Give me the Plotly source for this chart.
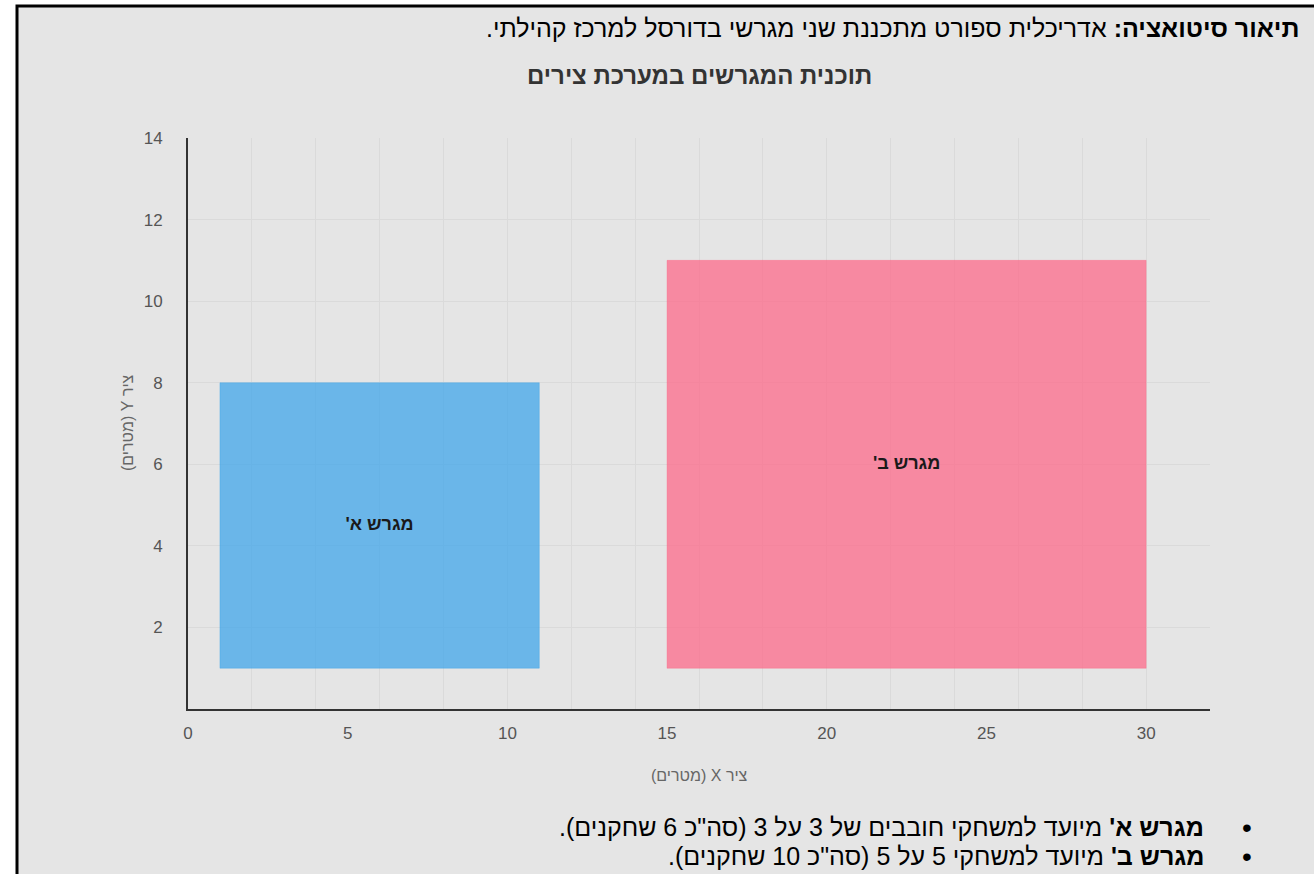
import plotly.graph_objects as go

# data
court_names = ["מגרש א'", "מגרש ב'"]
x_start = [1, 15]
x_end = [11, 30]
y_start = [1, 1]
y_end = [8, 11]
court_colors = ["rgba(54, 162, 235, 0.7)", "rgba(255, 99, 132, 0.7)"]
court_lines = ["rgba(54, 162, 235, 0.35)", "rgba(255, 99, 132, 0.35)"]

x_ticks = [0, 5, 10, 15, 20, 25, 30]
y_ticks = [2, 4, 6, 8, 10, 12, 14]

header = "<b>תיאור סיטואציה:</b> אדריכלית ספורט מתכננת שני מגרשי בדורסל למרכז קהילתי."
chart_title = "תוכנית המגרשים במערכת צירים"
x_title = "ציר X (מטרים)"
y_title = "ציר Y (מטרים)"
bullets = [
    "<b>מגרש א'</b> מיועד למשחקי חובבים של 3 על 3 (סה\"כ 6 שחקנים).",
    "<b>מגרש ב'</b> מיועד למשחקי 5 על 5 (סה\"כ 10 שחקנים).",
]

W, H = 1314, 874
ML, MT = 188, 138
MR, MB = W - 1210, H - 709
PW, PH = W - ML - MR, H - MT - MB


def px_x(px):
    return (px - ML) / PW


def px_y(py):
    return (H - MB - py) / PH


def rtl(s):
    return "\u202b" + s + "\u200f\u202c"


FONT = "Liberation Sans, Arial, sans-serif"

fig = go.Figure()

for name, x0, x1, y0, y1, fc, lc in zip(court_names, x_start, x_end, y_start, y_end, court_colors, court_lines):
    fig.add_trace(go.Scatter(
        x=[x0, x1, x1, x0, x0],
        y=[y0, y0, y1, y1, y0],
        mode="lines",
        fill="toself",
        fillcolor=fc,
        line=dict(color=lc, width=1),
        hoverinfo="skip",
        showlegend=False,
    ))
    fig.add_trace(go.Scatter(
        x=[(x0 + x1) / 2],
        y=[(y0 + y1) / 2],
        mode="text",
        text=[rtl("<b>" + name + "</b>")],
        textfont=dict(family=FONT, size=18, color="#1a1a1a"),
        hoverinfo="skip",
        showlegend=False,
    ))

# grey page box with black border
fig.add_shape(
    type="rect", xref="paper", yref="paper", layer="below",
    x0=px_x(17), x1=px_x(1340), y0=px_y(900), y1=px_y(6),
    fillcolor="#e5e5e5", line=dict(color="black", width=3),
)

annotations = [
    dict(text=rtl(header), x=px_x(1301), y=px_y(28), xanchor="right", yanchor="middle",
         font=dict(family=FONT, size=25, color="black")),
    dict(text=rtl("<b>" + chart_title + "</b>"), x=0.5, y=px_y(75), xanchor="center", yanchor="middle",
         font=dict(family=FONT, size=24, color="#333")),
    dict(text=rtl(x_title), x=0.5, y=px_y(775), xanchor="center", yanchor="middle",
         font=dict(family=FONT, size=16, color="#666")),
    dict(text=rtl(y_title), x=px_x(127), y=px_y(423), xanchor="center", yanchor="middle", textangle=-90,
         font=dict(family=FONT, size=16, color="#666")),
]
for i, b in enumerate(bullets):
    yy = 827 + i * 29
    annotations.append(dict(text=rtl(b), x=px_x(1206), y=px_y(yy), xanchor="right", yanchor="middle",
                            font=dict(family=FONT, size=25, color="black")))
    annotations.append(dict(text="•", x=px_x(1247), y=px_y(yy), xanchor="center", yanchor="middle",
                            font=dict(family=FONT, size=28, color="black")))
for a in annotations:
    a.update(xref="paper", yref="paper", showarrow=False)

grid_color = "#dadada"

fig.update_layout(
    width=W, height=H,
    margin=dict(l=ML, r=MR, t=MT, b=MB, autoexpand=False),
    paper_bgcolor="white",
    plot_bgcolor="rgba(0,0,0,0)",
    annotations=annotations,
    showlegend=False,
    xaxis=dict(
        range=[0, 32], tickvals=x_ticks, showgrid=False, zeroline=False,
        showline=True, linecolor="#333", linewidth=2,
        ticks="", ticklabelstandoff=8,
        tickfont=dict(family=FONT, size=17, color="#555"),
        minor=dict(dtick=2, tick0=0, showgrid=True, gridcolor=grid_color, gridwidth=1),
        fixedrange=True,
    ),
    yaxis=dict(
        range=[0, 14], tickvals=y_ticks, showgrid=True, gridcolor=grid_color, gridwidth=1,
        zeroline=False, showline=True, linecolor="#333", linewidth=2,
        ticks="", ticklabelstandoff=20,
        tickfont=dict(family=FONT, size=17, color="#555"),
        fixedrange=True,
    ),
)

# drop the browser's default body margin so the figure sits at the page corner
fig.write_html("out.html", config={"displayModeBar": False},
               post_script="document.body.style.margin = '0';")
